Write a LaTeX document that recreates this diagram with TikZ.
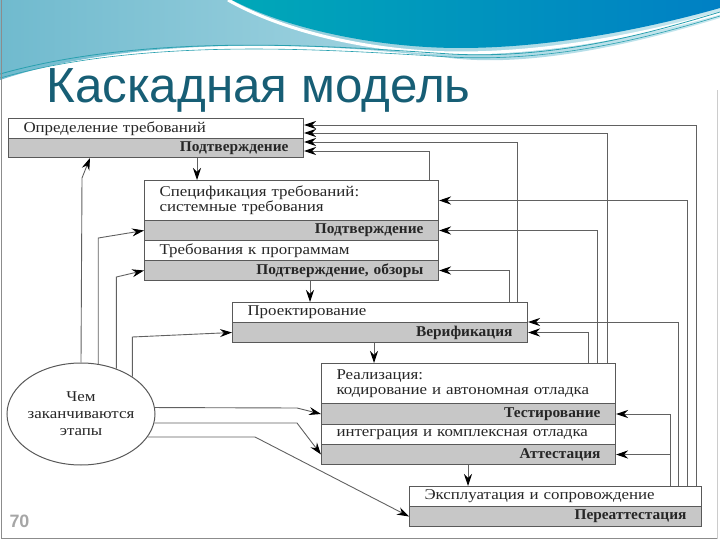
\documentclass[tikz,border=0pt]{standalone}
\usepackage{fontspec}
\setmainfont{Liberation Serif}
\newfontfamily\stagefont{Liberation Serif}[FakeStretch=1.13]
\newfontfamily\checkfont{Liberation Serif}[FakeStretch=1.03]
\newfontfamily\headfont{Liberation Sans}
\usepackage{xcolor}
\usepackage{tikz}
\usetikzlibrary{arrows.meta, shapes.geometric}
\definecolor{titleteal}{RGB}{23,94,117}
\definecolor{hdlight}{RGB}{112,186,206}
\definecolor{hdpale}{RGB}{200,232,239}
\definecolor{hdteal}{RGB}{0,168,184}
\definecolor{hdblue}{RGB}{0,128,196}
\definecolor{hdline}{RGB}{40,160,175}
\tikzset{
  stage/.style={draw=black!65, line width=1bp, fill=white, anchor=north west,
    inner xsep=15bp, inner ysep=0pt, align=left, text=black!85,
    font=\stagefont\fontsize{15}{15.5}\selectfont},
  check/.style={stage, fill=black!22, align=right,
    font=\checkfont\bfseries\fontsize{15}{15.5}\selectfont},
  arr/.style={draw=black!62, line width=0.9bp,
    -{Stealth[length=12bp, width=8bp, inset=4bp, color=black]}},
}

\begin{document}
\begin{tikzpicture}[x=1bp, y=-1bp]
\useasboundingbox (0,0) rectangle (720,540);

\shade[left color=hdlight, right color=hdpale] (0,0) -- (720,0) -- (720,18)
  .. controls (680,30) and (550,70) .. (450,58)
  .. controls (350,46) and (150,30) .. (0,80) -- cycle;
\shade[left color=hdteal, right color=hdblue] (232,0)
  .. controls (290,30) and (380,48) .. (460,48)
  .. controls (560,48) and (660,25) .. (720,8) -- (720,0) -- cycle;
\draw[white, line width=3bp] (228,0) .. controls (288,34) and (380,53) .. (460,53)
  .. controls (560,53) and (660,30) .. (720,13);
\draw[hdline, line width=0.8bp] (0,74) .. controls (150,32) and (330,46) .. (450,54)
  .. controls (560,60) and (660,30) .. (720,12);
\draw[hdline, line width=0.6bp] (0,78) .. controls (150,36) and (330,50) .. (450,57)
  .. controls (560,63) and (660,34) .. (720,16);
\draw[black!45, line width=1bp] (1.5,0) -- (1.5,538.5) -- (717,538.5);
\draw[black!20, line width=1bp] (717,538.5) -- (717,90);

\node[anchor=base west, text=titleteal, font=\headfont\fontsize{49.5}{52}\selectfont] (title) at (43,103) {Каскадная модель};
\node[anchor=base west, text=black!35, font=\headfont\bfseries\fontsize{18}{20}\selectfont] (page) at (6,527) {70};

\node[stage, text width=265bp, minimum height=20bp] (def) at (8,118) {Определение требований};
\node[check, text width=265bp, minimum height=19bp] (defok) at (8,138) {Подтверждение};

\node[stage, text width=264bp, minimum height=40bp] (spec) at (144,180) {Спецификация требований:\\системные требования};
\node[check, text width=264bp, minimum height=20bp] (specok) at (144,220) {Подтверждение};
\node[stage, text width=264bp, minimum height=20bp] (prog) at (144,240) {Требования к программам};
\node[check, text width=264bp, minimum height=20bp] (progok) at (144,260) {Подтверждение, обзоры};

\node[stage, text width=265bp, minimum height=20bp] (design) at (232,302) {Проектирование};
\node[check, text width=265bp, minimum height=20bp] (verif) at (232,322) {Верификация};

\node[stage, text width=264bp, minimum height=40bp] (impl) at (321,363) {Реализация:\\кодирование и автономная отладка};
\node[check, text width=264bp, minimum height=21bp] (test) at (321,403) {Тестирование};
\node[stage, text width=264bp, minimum height=20bp] (integ) at (321,424) {интеграция и комплексная отладка};
\node[check, text width=264bp, minimum height=20bp] (attest) at (321,444) {Аттестация};

\node[stage, text width=262bp, minimum height=20bp] (ops) at (409,486) {Эксплуатация и сопровождение};
\node[check, text width=262bp, minimum height=20bp] (reatt) at (409,506) {Переаттестация};

\node[draw=black!65, line width=1bp, ellipse, minimum width=148bp, minimum height=102bp,
  inner xsep=-4bp, inner ysep=0pt, align=center, text=black!85,
  font=\stagefont\fontsize{15}{17}\selectfont] (end) at (81,414) {Чем\\заканчиваются\\этапы};

\draw[arr] (defok.south -| 197,0) -- (spec.north -| 197,0);
\draw[arr] (progok.south -| 310,0) -- (design.north -| 310,0);
\draw[arr] (verif.south -| 374,0) -- (impl.north -| 374,0);
\draw[arr] (attest.south -| 468,0) -- (ops.north -| 468,0);

\draw[arr] (end.north) -- (82,178) -- (defok.south -| 90,0);
\draw[arr] (end.71) -- (end.71 |- 0,238) -- (specok.west);
\draw[arr] (end.52) -- (end.52 |- 0,277) -- (progok.west);
\draw[arr] (end.36) -- (end.36 |- 0,337) -- (verif.west);
\draw[arr] (end.5) -- (297,408) -- (test.west);
\draw[arr] (end.-7) -- (297,423) -- (attest.west);
\draw[arr] (end.-19) -- (255,437) -- (reatt.west);

\draw[arr] (spec.north -| 429,0) |- (defok.east |- 0,151);
\draw[arr] (design.north -| 509,0) |- (progok.east);
\draw[arr] (design.north -| 517,0) |- (defok.east |- 0,142);
\draw[arr] (impl.north -| 588,0) |- (verif.east);
\draw[arr] (impl.north -| 597,0) |- (specok.east);
\draw[arr] (impl.north -| 607,0) |- (def.east |- 0,133);
\draw[arr] (ops.north -| 670,0) |- (test.east);
\draw[arr] (ops.north -| 670,0) |- (attest.east);
\draw[arr] (ops.north -| 678,0) |- (design.east |- 0,322);
\draw[arr] (ops.north -| 687,0) |- (spec.east);
\draw[arr] (ops.north -| 696,0) |- (def.east |- 0,125);

\end{tikzpicture}
\end{document}
